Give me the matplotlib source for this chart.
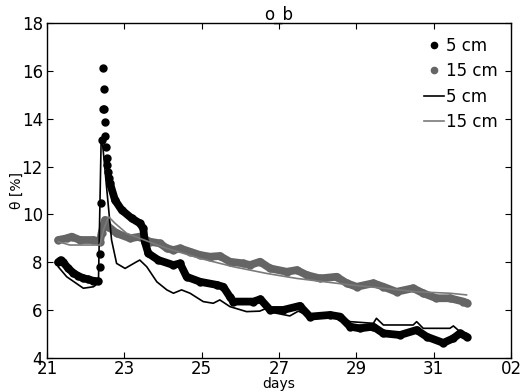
import numpy as np
import matplotlib
matplotlib.use("Agg")
import matplotlib.pyplot as plt

# measured, 5 cm (black dots)
x5_meas = [21.29, 21.35, 21.42, 21.55, 21.68, 21.81, 21.94, 22.07, 22.20, 22.33,
           22.36, 22.38, 22.40, 22.42, 22.46, 22.47, 22.44, 22.48, 22.49, 22.50,
           22.52, 22.54, 22.56, 22.58, 22.60,
           22.63, 22.76, 22.93, 23.19, 23.40, 23.49, 23.53, 23.62, 23.88, 24.27,
           24.44, 24.61, 24.96, 25.39, 25.56, 25.73, 25.82, 26.34, 26.52, 26.77,
           27.11, 27.54, 27.80, 28.32, 28.58, 28.84, 29.09, 29.44, 29.70, 30.13,
           30.56, 30.82, 31.25, 31.51, 31.68, 31.85]
y5_meas = [8.00, 8.08, 8.00, 7.74, 7.55, 7.42, 7.33, 7.28, 7.22, 7.20,
           7.78, 8.34, 10.50, 13.10, 16.15, 15.25, 14.42, 14.42, 13.86, 13.30,
           12.84, 12.35, 12.07, 11.79, 11.51,
           11.30, 10.60, 10.19, 9.84, 9.63, 9.42, 8.86, 8.37, 8.09, 7.88,
           7.95, 7.39, 7.18, 7.05, 6.97, 6.55, 6.35, 6.35, 6.45, 6.00,
           6.00, 6.17, 5.72, 5.79, 5.72, 5.30, 5.23, 5.30, 5.02, 4.95,
           5.16, 4.88, 4.62, 4.81, 5.02, 4.88]

# measured, 15 cm (grey dots)
x15_meas = [21.29, 21.51, 21.64, 21.85, 22.20, 22.37, 22.41, 22.50, 22.59, 22.80,
            23.15, 23.40, 23.66, 23.92, 24.10, 24.27, 24.44, 24.70, 24.96, 25.22,
            25.47, 25.73, 26.08, 26.25, 26.51, 26.77, 27.20, 27.46, 27.72, 28.06,
            28.49, 28.75, 29.01, 29.44, 29.70, 30.04, 30.47, 30.73, 31.07, 31.42,
            31.77, 31.85]
y15_meas = [8.93, 9.00, 9.07, 8.93, 8.93, 8.86, 9.21, 9.77, 9.49, 9.21,
            9.00, 9.07, 8.86, 8.79, 8.58, 8.51, 8.58, 8.44, 8.30, 8.23,
            8.26, 8.02, 7.95, 7.88, 8.02, 7.74, 7.60, 7.67, 7.46, 7.32,
            7.39, 7.12, 6.97, 7.12, 6.97, 6.76, 6.91, 6.70, 6.49, 6.49,
            6.35, 6.30]

# simulated, 5 cm (black line)
x5_sim = [21.29, 21.51, 21.94, 22.20, 22.33, 22.40, 22.43, 22.54, 22.67, 22.80,
          23.02, 23.32, 23.40, 23.58, 23.84, 24.10, 24.27, 24.48, 24.70, 25.04,
          25.30, 25.47, 25.73, 26.16, 26.50, 26.68, 26.94, 27.28, 27.50, 27.80,
          28.30, 28.60, 28.84, 29.44, 29.52, 29.70, 30.47, 30.56, 30.73, 31.42,
          31.51, 31.68, 31.85]
y5_sim = [7.81, 7.39, 6.91, 6.97, 7.12, 13.05, 13.10, 11.16, 8.93, 7.95,
          7.74, 8.02, 8.09, 7.81, 7.18, 6.84, 6.70, 6.84, 6.70, 6.35,
          6.28, 6.42, 6.14, 5.93, 5.95, 6.07, 5.86, 5.75, 5.95, 5.72,
          5.75, 5.70, 5.51, 5.44, 5.65, 5.37, 5.37, 5.51, 5.23, 5.23,
          5.33, 5.09, 5.02]

# simulated, 15 cm (grey line)
x15_sim = [21.29, 21.59, 22.37, 22.46, 22.59, 22.76, 23.06, 23.40, 24.10, 24.96,
           25.82, 26.68, 27.46, 28.84, 29.70, 30.56, 31.42, 31.85]
y15_sim = [8.86, 8.72, 8.72, 9.35, 9.91, 9.63, 9.21, 9.00, 8.58, 8.16,
           7.81, 7.53, 7.32, 7.05, 6.91, 6.76, 6.70, 6.63]

xticks = [21, 23, 25, 27, 29, 31, 33]
xtick_labels = ['21', '23', '25', '27', '29', '31', '02']
yticks = [4, 6, 8, 10, 12, 14, 16, 18]

fig = plt.figure(figsize=(5.25, 3.91), dpi=100)
ax = fig.add_axes([0.0895, 0.0852, 0.8838, 0.8547])

grey_dot = '#656565'
grey_line = '#7a7a7a'
band_lw = 5.6

# dense hourly readings show as a solid band; spike points stay separate
ax.plot(x15_meas, y15_meas, '-', color=grey_dot, lw=band_lw,
        solid_capstyle='round', solid_joinstyle='round', zorder=1)
h15m, = ax.plot(x15_meas, y15_meas, 'o', color=grey_dot, ms=5, mec=grey_dot,
                zorder=1, label='15 cm')

pre, post = 10, 25
ax.plot(x5_meas[:pre], y5_meas[:pre], '-', color='k', lw=band_lw,
        solid_capstyle='round', solid_joinstyle='round', zorder=2)
ax.plot(x5_meas[post:], y5_meas[post:], '-', color='k', lw=band_lw,
        solid_capstyle='round', solid_joinstyle='round', zorder=2)
h5m, = ax.plot(x5_meas, y5_meas, 'o', color='k', ms=5, zorder=2, label='5 cm')

h5s, = ax.plot(x5_sim, y5_sim, '-', color='k', lw=1.2, zorder=3, label='5 cm')
h15s, = ax.plot(x15_sim, y15_sim, '-', color=grey_line, lw=1.2, zorder=3,
                label='15 cm')

ax.set_xlim(21, 33)
ax.set_ylim(4, 18)
ax.set_xticks(xticks)
ax.set_xticklabels(xtick_labels)
ax.set_yticks(yticks)
ax.tick_params(direction='in', top=True, right=True, length=4, labelsize=12,
               pad=3)
ax.tick_params(axis='x', pad=2)
for s in ax.spines.values():
    s.set_linewidth(1.0)

ax.set_title('o_b', fontsize=12, pad=3)
ax.set_xlabel('days', fontsize=10, labelpad=-1)
ax.set_ylabel('θ [%]', fontsize=10, labelpad=-2)

ax.legend(handles=[h5m, h15m, h5s, h15s], loc='upper right', frameon=False,
          numpoints=1, fontsize=12, handlelength=1.2, handletextpad=0.1,
          labelspacing=0.45, borderaxespad=0.4, markerscale=0.9)

fig.savefig('out.png', dpi=100)
